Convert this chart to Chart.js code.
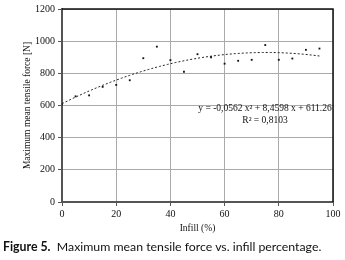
<!DOCTYPE html>
<html><head><meta charset="utf-8">
<script src="https://cdn.jsdelivr.net/npm/chart.js@4"></script>
<style>
html,body{margin:0;padding:0;background:#fff;}
#wrap{position:relative;width:345px;height:260px;}
#cap{position:absolute;left:3px;top:239px;font-family:Lato,"Open Sans",sans-serif;font-size:12.3px;line-height:16px;color:#111;white-space:nowrap;}
</style></head><body>
<div id="wrap"><canvas id="c" width="345" height="260"></canvas>
<div id="cap"><b>Figure 5.</b>&nbsp; Maximum mean tensile force vs. infill percentage.</div></div>
<script>
const infill = [0,5,10,15,20,25,30,35,40,45,50,55,60,65,70,75,80,85,90,95];
const force = [607,657,663,716,728,757,894,966,882,810,919,900,860,878,884,976,884,892,946,954];
const trendCoef = [-0.0562, 8.4598, 611.26];
const xTicks = [0,20,40,60,80,100];
const yTicks = [0,200,400,600,800,1000,1200];
const eqText = ["y = -0,0562 x\u00B2 + 8,4598 x + 611.26", "R\u00B2 = 0,8103"];

const trendX = [];
for (let x = 0; x <= 95; x += 1) trendX.push(x);
const trend = trendX.map(x => ({x, y: trendCoef[0]*x*x + trendCoef[1]*x + trendCoef[2]}));
const pts = infill.map((x,i)=>({x, y: force[i]}));

const serif = "'Liberation Serif','DejaVu Serif',serif";

const framePlugin = {
  id:'frame',
  afterDraw(chart){
    const {ctx, chartArea:a} = chart;
    ctx.save();
    ctx.strokeStyle = '#111'; ctx.lineWidth = 1.5;
    ctx.beginPath();
    ctx.moveTo(a.left, a.top); ctx.lineTo(a.right, a.top); ctx.lineTo(a.right, a.bottom);
    ctx.stroke();
    ctx.fillStyle = '#111';
    ctx.font = "9.5px " + serif;
    ctx.textAlign = 'center'; ctx.textBaseline = 'middle';
    ctx.fillText(eqText[0], 265, 108);
    ctx.fillText(eqText[1], 265, 120);
    ctx.restore();
  }
};

new Chart(document.getElementById('c'), {
  type:'scatter',
  data:{datasets:[
    {data: pts, showLine:false, pointStyle:'rect', pointRadius:1.3, backgroundColor:'#111', borderColor:'#111', borderWidth:0},
    {data: trend, showLine:true, pointRadius:0, borderColor:'#222', borderWidth:1, borderDash:[2,2], fill:false}
  ]},
  options:{
    responsive:false, animation:false,
    layout:{padding:{left:22,right:12,top:7,bottom:26}},
    plugins:{legend:{display:false}, tooltip:{enabled:false}},
    scales:{
      x:{type:'linear', min:0, max:100,
        afterBuildTicks(s){ s.ticks = xTicks.map(v=>({value:v})); },
        afterFit(s){ s.height = 32; },
        grid:{color:'#aaa', lineWidth:1, tickLength:4, drawTicks:true, tickColor:'#555'},
        border:{color:'#555', width:2},
        ticks:{color:'#111', font:{family:serif, size:10}, padding:2, maxRotation:0, callback:v=>String(v)},
        title:{display:true, text:'Infill (%)', color:'#111', font:{family:serif, size:9.5}, padding:{top:0,bottom:0}}
      },
      y:{type:'linear', min:0, max:1200,
        afterBuildTicks(s){ s.ticks = yTicks.map(v=>({value:v})); },
        afterFit(s){ s.width = 40; },
        grid:{color:'#aaa', lineWidth:1, tickLength:4, drawTicks:true, tickColor:'#555'},
        border:{color:'#555', width:2},
        ticks:{color:'#111', font:{family:serif, size:10}, padding:3, callback:v=>String(v)},
        title:{display:true, text:'Maximum mean tensile force [N]', color:'#111', font:{family:serif, size:9.5}, padding:{top:0,bottom:0}}
      }
    }
  },
  plugins:[framePlugin]
});
</script></body></html>
